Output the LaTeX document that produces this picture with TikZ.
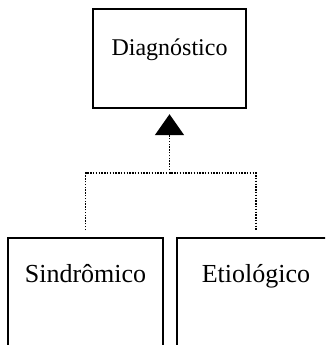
\documentclass[tikz,border=0pt]{standalone}
\usepackage{fontspec}
\setmainfont{Liberation Serif}
\usetikzlibrary{arrows.meta}
\tikzset{
  box/.style={draw=black,line width=2.2pt,inner xsep=0pt,inner ysep=0pt,font=\fontsize{24}{28}\selectfont},
  sub/.style={box,anchor=north,text height=44pt,text depth=120pt,font=\fontsize{26}{30}\selectfont},
  lnk/.style={draw=black,line width=1.7pt,dash pattern=on 1.4pt off 1.4pt},
  gen/.style={-{Triangle[length=21pt,width=29pt]}},
}

\begin{document}
\begin{tikzpicture}[x=1pt,y=-1pt]
\useasboundingbox (0,0) rectangle (325,345);
\clip (0,0) rectangle (325,345);
% ---- parent class and its two subclasses (cut off at the page edge)
\node[box,anchor=north,minimum width=153pt,text height=46pt,text depth=53pt] (diag) at (169.5,8) {Diagnóstico};
\node[sub,minimum width=155pt] (sind) at (85.5,237) {Sindrômico};
\node[sub,minimum width=158pt] (etio) at (256,237) {Etiológico};
\coordinate (j) at (169.5,173);
% ---- generalization
\draw[lnk] ([yshift=7pt]sind.north) |- (j) -| ([yshift=7pt]etio.north);
\draw[lnk,gen,shorten >=5pt] (j) -- (diag.south);
\end{tikzpicture}
\end{document}
